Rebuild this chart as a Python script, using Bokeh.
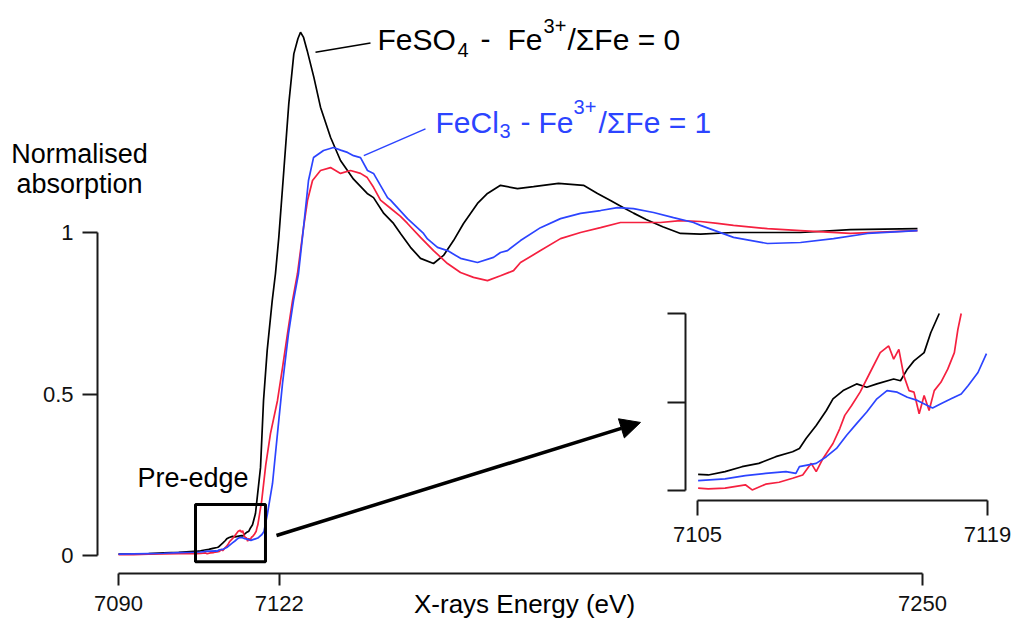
from bokeh.plotting import figure
from bokeh.models import (Range1d, LinearAxis, FixedTicker, Label, BoxAnnotation,
                          Arrow, NormalHead, CustomJSTickFormatter)
from bokeh.embed import file_html
from bokeh.resources import INLINE

# ---------------- data (X-ray energy in eV, normalised absorption) ----------------
# pre-edge baseline (main panel only)
base_e = [7090.0, 7093.0, 7096.0, 7099.0, 7102.0]
base_black = [0.004, 0.005, 0.006, 0.008, 0.010]
base_red = [0.003, 0.003, 0.004, 0.005, 0.006]
base_blue = [0.004, 0.005, 0.006, 0.007, 0.009]

# pre-edge detail (inset, 7105-7119 eV)
pre_black_e = [7105.03, 7105.52, 7106.33, 7107.15, 7107.96, 7108.78, 7109.59, 7109.92,
               7110.24, 7110.73, 7111.22, 7111.54, 7112.03, 7112.68, 7113.17, 7113.66,
               7114.47, 7114.80, 7115.13, 7115.45, 7115.94, 7116.26, 7116.67]
pre_black_v = [0.0132, 0.0129, 0.0146, 0.0171, 0.0188, 0.0222, 0.0247, 0.0264,
               0.0314, 0.0381, 0.0457, 0.0516, 0.0558, 0.0592, 0.0575, 0.0592,
               0.0617, 0.0608, 0.0667, 0.0709, 0.0751, 0.0852, 0.0950]

pre_red_e = [7105.03, 7105.52, 7106.33, 7107.31, 7107.64, 7108.29, 7108.94, 7109.59,
             7110.08, 7110.49, 7110.73, 7111.06, 7111.54, 7111.87, 7112.11, 7112.44,
             7112.85, 7113.33, 7113.82, 7114.23, 7114.47, 7114.72, 7114.96, 7115.21,
             7115.45, 7115.70, 7115.94, 7116.18, 7116.43, 7116.75, 7117.08, 7117.40,
             7117.57, 7117.73]
pre_red_v = [0.0062, 0.0058, 0.0062, 0.0079, 0.0053, 0.0082, 0.0092, 0.0112,
             0.0129, 0.0188, 0.0146, 0.0213, 0.0289, 0.0365, 0.0432, 0.0482,
             0.0550, 0.0650, 0.0751, 0.0785, 0.0718, 0.0768, 0.0634, 0.0558,
             0.0550, 0.0440, 0.0533, 0.0457, 0.0558, 0.0600, 0.0667, 0.0751,
             0.0869, 0.0950]

pre_blue_e = [7105.03, 7106.33, 7107.31, 7108.29, 7109.27, 7109.75, 7109.92, 7110.73,
              7111.22, 7111.71, 7112.20, 7112.68, 7113.17, 7113.66, 7114.15, 7114.64,
              7115.13, 7115.61, 7116.10, 7116.35, 7116.75, 7117.24, 7117.73, 7118.06,
              7118.54, 7118.95]
pre_blue_v = [0.0100, 0.0109, 0.0126, 0.0137, 0.0146, 0.0137, 0.0171, 0.0188,
              0.0222, 0.0264, 0.0331, 0.0390, 0.0449, 0.0516, 0.0558, 0.0550,
              0.0524, 0.0508, 0.0482, 0.0469, 0.0491, 0.0516, 0.0541, 0.0583,
              0.0650, 0.0746]

# edge + EXAFS region
edge_black_e = [7117.26, 7118.26, 7118.86, 7119.59, 7120.59, 7121.24, 7121.90, 7122.90,
                7123.89, 7124.89, 7125.70, 7126.22, 7126.80, 7127.55, 7128.87, 7130.20,
                7132.19, 7134.18, 7136.77, 7139.49, 7140.75, 7142.80, 7144.73, 7146.12,
                7148.11, 7150.10, 7152.69, 7154.68, 7156.67, 7158.66, 7161.44, 7163.43,
                7166.02, 7169.40, 7172.59, 7177.56, 7182.54, 7185.32, 7187.91, 7190.50,
                7192.50, 7195.00, 7198.30, 7201.84, 7205.82, 7212.39, 7225.72, 7235.67,
                7249.00]
edge_black_v = [0.130, 0.272, 0.480, 0.635, 0.789, 0.873, 0.985, 1.192,
                1.399, 1.553, 1.600, 1.620, 1.605, 1.563, 1.481, 1.388,
                1.295, 1.223, 1.165, 1.121, 1.108, 1.059, 1.028, 0.997,
                0.954, 0.920, 0.904, 0.929, 0.975, 1.028, 1.090, 1.121,
                1.146, 1.136, 1.142, 1.152, 1.146, 1.121, 1.099, 1.077,
                1.060, 1.040, 1.018, 0.997, 0.995, 1.000, 1.000, 1.009,
                1.012]

edge_red_e = [7118.50, 7119.30, 7120.25, 7121.64, 7122.64, 7123.63, 7124.63, 7125.62,
              7126.82, 7127.61, 7128.61, 7130.20, 7132.19, 7134.18, 7136.17, 7138.16,
              7139.50, 7140.75, 7142.14, 7144.13, 7146.12, 7147.51, 7150.10, 7152.69,
              7155.47, 7158.06, 7160.65, 7163.43, 7166.02, 7168.61, 7170.00, 7173.98,
              7177.96, 7181.94, 7185.92, 7189.90, 7193.88, 7197.86, 7201.84, 7205.82,
              7209.20, 7212.39, 7219.15, 7225.72, 7235.67, 7249.00]
edge_red_v = [0.170, 0.280, 0.378, 0.480, 0.582, 0.687, 0.789, 0.873,
              1.015, 1.099, 1.161, 1.192, 1.201, 1.183, 1.192, 1.183,
              1.170, 1.140, 1.100, 1.075, 1.050, 1.028, 0.985, 0.944,
              0.904, 0.876, 0.861, 0.851, 0.866, 0.882, 0.907, 0.944,
              0.981, 1.000, 1.015, 1.031, 1.031, 1.031, 1.037, 1.034,
              1.028, 1.022, 1.012, 1.006, 0.997, 1.006]

edge_blue_e = [7119.65, 7120.65, 7121.64, 7122.64, 7123.83, 7124.83, 7125.82, 7126.82,
               7127.81, 7128.81, 7130.80, 7132.79, 7134.20, 7135.57, 7136.77, 7138.16,
               7139.55, 7140.75, 7143.53, 7144.13, 7147.51, 7150.70, 7151.49, 7153.48,
               7155.47, 7158.06, 7161.44, 7164.63, 7166.02, 7167.41, 7170.00, 7173.98,
               7177.96, 7181.94, 7185.92, 7189.30, 7192.49, 7196.47, 7200.45, 7204.43,
               7205.82, 7212.39, 7219.15, 7225.72, 7232.29, 7239.05, 7249.00]
edge_blue_v = [0.130, 0.223, 0.378, 0.533, 0.687, 0.789, 0.873, 1.015,
               1.161, 1.232, 1.254, 1.263, 1.255, 1.248, 1.238, 1.232,
               1.192, 1.183, 1.108, 1.100, 1.043, 0.997, 0.980, 0.954,
               0.944, 0.920, 0.907, 0.923, 0.938, 0.944, 0.975, 1.015,
               1.043, 1.059, 1.068, 1.077, 1.074, 1.062, 1.046, 1.031,
               1.022, 0.985, 0.966, 0.969, 0.981, 0.997, 1.006]

x_ticks = [7090, 7122, 7250]
y_ticks = [0, 0.5, 1]
inset_x_ticks = [7105, 7119]
inset_y_ticks = [0.005, 0.05, 0.095]

# ---------------- styling / layout constants ----------------
FONT = "Liberation Sans"
BLACK = "#000000"
RED = "#f5203f"
BLUE = "#2c44ff"
AXC = "#1a1a1a"
PX_PER_UNIT = 323.0      # vertical pixels per absorption unit (main panel)
BASELINE_FIX = 0.37      # label baseline correction, in em

p = figure(width=1014, height=619, output_backend="svg", toolbar_location=None,
           x_axis_type=None, y_axis_type=None,
           x_range=Range1d(7066.517, 7268.308), y_range=Range1d(-0.19814, 1.71827),
           min_border=0, outline_line_color=None,
           background_fill_color="white", border_fill_color="white")
p.extra_x_ranges = {"ix": Range1d(7071.352, 7120.303)}
p.extra_y_ranges = {"iy": Range1d(-0.060593, 0.254153)}


def style_axis(ax, tick_out, standoff):
    ax.axis_line_width = 2
    ax.axis_line_color = AXC
    ax.major_tick_line_width = 2
    ax.major_tick_line_color = AXC
    ax.minor_tick_line_color = None
    ax.major_tick_in = 0
    ax.major_tick_out = tick_out
    ax.major_label_standoff = standoff
    ax.major_label_text_font = FONT
    ax.major_label_text_font_size = "22px"
    ax.major_label_text_color = "#111111"


main_y = LinearAxis(fixed_location=7085.821, bounds=(0, 1), ticker=FixedTicker(ticks=y_ticks),
                    formatter=CustomJSTickFormatter(code="return String(tick);"))
style_axis(main_y, 15, 9)
p.add_layout(main_y, "left")

main_x = LinearAxis(fixed_location=-0.05573, bounds=(7090, 7250), ticker=FixedTicker(ticks=x_ticks))
style_axis(main_x, 12, 10)
p.add_layout(main_x, "below")

ins_y = LinearAxis(x_range_name="ix", y_range_name="iy", fixed_location=7104.4207,
                   bounds=(0.005, 0.095), ticker=FixedTicker(ticks=inset_y_ticks),
                   formatter=CustomJSTickFormatter(code="return '';"))
style_axis(ins_y, 18, 4)
p.add_layout(ins_y, "left")

ins_x = LinearAxis(x_range_name="ix", y_range_name="iy", fixed_location=0.0,
                   bounds=(7105, 7119), ticker=FixedTicker(ticks=inset_x_ticks))
style_axis(ins_x, 15, 12)
p.add_layout(ins_x, "below")

# ---------------- curves ----------------
series = [
    (base_e + pre_black_e + edge_black_e, base_black + pre_black_v + edge_black_v, BLACK,
     pre_black_e, pre_black_v),
    (base_e + pre_red_e + edge_red_e, base_red + pre_red_v + edge_red_v, RED,
     pre_red_e, pre_red_v),
    (base_e + pre_blue_e + edge_blue_e, base_blue + pre_blue_v + edge_blue_v, BLUE,
     pre_blue_e, pre_blue_v),
]
for e, v, c, ie, iv in series:
    p.line(e, v, line_color=c, line_width=1.7)
    p.line(ie, iv, line_color=c, line_width=1.7, x_range_name="ix", y_range_name="iy")

# ---------------- annotations ----------------
# leader lines (data coordinates)
p.segment(x0=[7129.20], y0=[1.558], x1=[7140.15], y1=[1.587], line_color=BLACK, line_width=1.5)
p.segment(x0=[7138.82], y0=[1.238], x1=[7151.09], y1=[1.321], line_color=BLUE, line_width=1.5)


def lab(x, y, text, size, color=BLACK, align="left"):
    y_adj = y + BASELINE_FIX * size / PX_PER_UNIT
    p.add_layout(Label(x=x, y=y_adj, text=text, text_font=FONT, text_font_size=f"{size}px",
                       text_color=color, text_align=align, text_baseline="alphabetic"))


# FeSO4 - Fe3+/ΣFe = 0
lab(7141.54, 1.5635, "FeSO", 30)
lab(7157.46, 1.5418, "4", 20)
lab(7162.04, 1.5635, "-", 30)
lab(7167.41, 1.5635, "Fe", 30)
lab(7174.58, 1.6161, "3+", 20)
lab(7179.35, 1.5635, "/ΣFe = 0", 30)

# FeCl3 - Fe3+/ΣFe = 1
lab(7153.08, 1.3065, "FeCl", 30, BLUE)
lab(7165.82, 1.2910, "3", 20, BLUE)
lab(7170.00, 1.3065, "-", 30, BLUE)
lab(7173.58, 1.3065, "Fe", 30, BLUE)
lab(7180.55, 1.3653, "3+", 20, BLUE)
lab(7185.52, 1.3065, "/ΣFe = 1", 30, BLUE)

lab(7082.24, 1.2136, "Normalised", 27, align="center")
lab(7082.24, 1.1207, "absorption", 27, align="center")
lab(7104.83, 0.2105, "Pre-edge", 27, align="center")
lab(7170.80, -0.1796, "X-rays Energy (eV)", 26, align="center")

p.add_layout(BoxAnnotation(left=7105.32, right=7119.25, bottom=-0.019, top=0.158,
                           fill_color=None, fill_alpha=0, line_color=BLACK,
                           line_alpha=1.0, line_width=3))

p.add_layout(Arrow(end=NormalHead(size=20, fill_color=BLACK, line_color=BLACK),
                   x_start=7121.44, y_start=0.062, x_end=7193.88, y_end=0.412,
                   line_width=3.5, line_color=BLACK))

open("out.html", "w").write(file_html(p, INLINE))
